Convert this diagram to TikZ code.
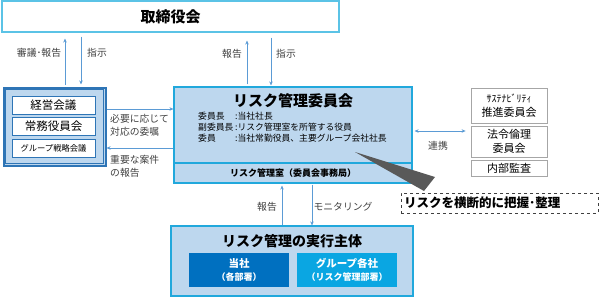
\documentclass[tikz,border=0pt]{standalone}
\usepackage{fontspec}
\setmainfont{Noto Sans CJK JP}
\usetikzlibrary{arrows.meta}
\definecolor{boardline}{HTML}{5BC3E6}
\definecolor{riskfill}{HTML}{BDD7EE}
\definecolor{riskline}{HTML}{21A8DC}
\definecolor{leftline}{HTML}{2E75B6}
\definecolor{arrowc}{HTML}{5B9BD5}
\definecolor{darkblue}{HTML}{0070C0}
\definecolor{lightblue}{HTML}{0AA6E2}
\definecolor{grayline}{HTML}{A6A6A6}
\definecolor{labelc}{HTML}{404040}
\definecolor{wedgec}{HTML}{595959}
\tikzset{
  box/.style={draw, rectangle, inner sep=0pt, align=center},
  arr/.style={draw=arrowc, line width=0.9pt, -{Stealth[length=4pt,width=3.5pt]}},
  darr/.style={draw=arrowc, line width=0.9pt, {Stealth[length=4pt,width=3.5pt]}-{Stealth[length=4pt,width=3.5pt]}},
  lbl/.style={text=labelc, inner sep=0pt, font=\fontsize{9.8}{13}\selectfont},
  fs/.style={font=\fontsize{#1}{#1}\selectfont},
  fsb/.style={font=\fontsize{#1}{#1}\selectfont\bfseries}
}
\begin{document}
\begin{tikzpicture}[x=1pt,y=-1pt]
\useasboundingbox (0,0) rectangle (600,297);
% board
\node[box, draw=boardline, line width=1.2pt, fill=white, minimum width=337pt, minimum height=31pt, fsb=15] (board) at (170.5,16.5) {取締役会};
% left box
\node[box, draw=leftline, line width=2pt, fill=riskfill, minimum width=102pt, minimum height=78pt] (left) at (54.5,126.5) {};
\draw[leftline, line width=0.4pt] (5.5,89.5) rectangle (103.5,163.5);
\node[box, draw=leftline, line width=0.8pt, fill=white, minimum width=83pt, minimum height=18pt, fs=11.5] (keiei) at (53.5,105) {経営会議};
\node[box, draw=leftline, line width=0.8pt, fill=white, minimum width=83pt, minimum height=18pt, fs=11.5] (jomu) at (53.5,126) {常務役員会};
\node[box, draw=leftline, line width=0.8pt, fill=white, minimum width=83pt, minimum height=18pt, fs=8.3] (group) at (53.5,148) {グループ戦略会議};
% risk committee
\node[box, draw=riskline, line width=1.2pt, fill=riskfill, minimum width=238pt, minimum height=76pt] (risk) at (293,125) {};
\node[box, draw=riskline, line width=1.2pt, fill=riskfill, minimum width=238pt, minimum height=20pt, fsb=9] (office) at (293,173) {リスク管理室（委員会事務局）};
\node[inner sep=0pt, fsb=15] (risktitle) at (293,101) {リスク管理委員会};
\node[anchor=west, inner sep=0pt, fs=8.8] (r1a) at (198,116) {委員長};
\node[anchor=west, inner sep=0pt, fs=8.8] (r1b) at (235,116) {:当社社長};
\node[anchor=west, inner sep=0pt, fs=8.8] (r2a) at (198,127) {副委員長};
\node[anchor=west, inner sep=0pt, fs=8.8] (r2b) at (235,127) {:リスク管理室を所管する役員};
\node[anchor=west, inner sep=0pt, fs=8.8] (r3a) at (198,138) {委員};
\node[anchor=west, inner sep=0pt, fs=8.8] (r3b) at (235,138) {:当社常勤役員、主要グループ会社社長};
% right boxes
\node[box, draw=grayline, line width=0.8pt, fill=white, minimum width=76pt, minimum height=35pt, fs=11] (sus) at (509,105.5) {{\fontsize{10}{10}\selectfont ｻｽﾃﾅﾋﾞﾘﾃｨ}\\[3pt]推進委員会};
\node[box, draw=grayline, line width=0.8pt, fill=white, minimum width=76pt, minimum height=31pt, fs=11] (law) at (509,141.5) {法令倫理\\[3pt]委員会};
\node[box, draw=grayline, line width=0.8pt, fill=white, minimum width=76pt, minimum height=16pt, fs=11] (audit) at (509,168) {内部監査};
% bottom box
\node[box, draw=riskline, line width=1.2pt, fill=riskfill, minimum width=242pt, minimum height=70pt] (exec) at (292,261) {};
\node[inner sep=0pt, fsb=14] (exectitle) at (292,241) {リスク管理の実行主体};
\node[box, draw=none, fill=darkblue, text=white, minimum width=100pt, minimum height=34pt, fsb=10.5] (tosha) at (239,270) {当社\\[3pt]{\fontsize{9}{9}\selectfont （各部署）}};
\node[box, draw=none, fill=lightblue, text=white, minimum width=100pt, minimum height=34pt, fsb=10.5] (groupco) at (347,270) {グループ各社\\[3pt]{\fontsize{9}{9}\selectfont （リスク管理部署）}};
% wedge and dashed box
\coordinate (wtip) at (355,152);
\fill[wedgec] (wtip) -- (424,191) -- (435,177) -- cycle;
\node[box, draw=labelc, dashed, line width=0.7pt, minimum width=197pt, minimum height=20pt] (cross) at (499.5,203) {};
\node[anchor=west, inner sep=0pt, fsb=12.5] (crosstxt) at (404,203) {リスクを横断的に把握･整理};
% arrows board <-> left
\draw[arr, shorten <=2pt, shorten >=6pt] ([xshift=10.5pt]left.north) -- ([xshift=10.5pt]left.north |- board.south);
\draw[arr, shorten <=4pt, shorten >=2pt] ([xshift=26.5pt]left.north |- board.south) -- ([xshift=26.5pt]left.north);
\node[lbl] (l1) at (39,53) {審議･報告};
\node[lbl] (l2) at (97,53) {指示};
% arrows board <-> risk
\draw[arr, shorten <=2pt, shorten >=8pt] ([xshift=-46pt]risk.north) -- ([xshift=-46pt]risk.north |- board.south);
\draw[arr, shorten <=5pt, shorten >=1pt] ([xshift=-22pt]risk.north |- board.south) -- ([xshift=-22pt]risk.north);
\node[lbl] (l3) at (232,54) {報告};
\node[lbl] (l4) at (286,54) {指示};
% arrows left <-> risk
\coordinate (ya) at (0,109);
\coordinate (yb) at (0,148);
\draw[arr] (left.east |- ya) -- (risk.west |- ya);
\draw[arr] (risk.west |- yb) -- (left.east |- yb);
\node[lbl, anchor=west, align=left] (l5) at (110,125.5) {必要に応じて\\対応の委嘱};
\node[lbl, anchor=west, align=left] (l6) at (110,166.5) {重要な案件\\の報告};
% risk <-> right
\coordinate (yc) at (0,131);
\draw[darr, shorten <=2pt, shorten >=5pt] (risk.east |- yc) -- (law.west |- yc);
\node[lbl] (l7) at (438,146) {連携};
% office <-> exec
\draw[arr, shorten >=2pt] ([xshift=-10pt]exec.north) -- ([xshift=-10pt]exec.north |- office.south);
\draw[arr, shorten <=1pt] ([xshift=20pt]exec.north |- office.south) -- ([xshift=20pt]exec.north);
\node[lbl] (l8) at (267,207) {報告};
\node[lbl] (l9) at (343,207) {モニタリング};
\end{tikzpicture}
\end{document}
